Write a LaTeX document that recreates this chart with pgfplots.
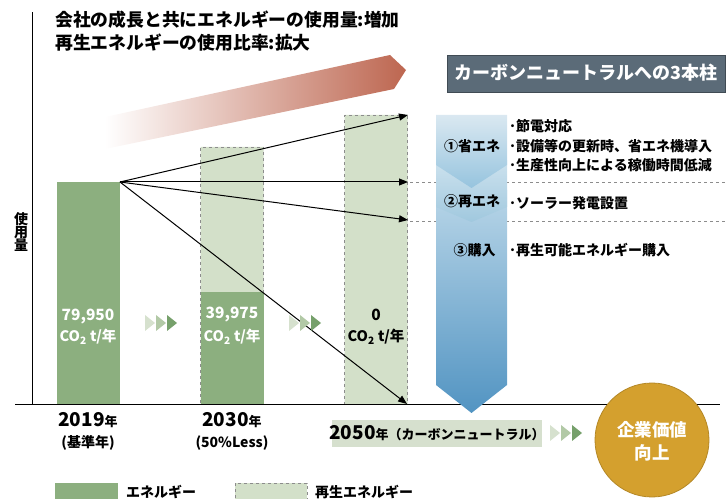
\documentclass[border=0pt]{standalone}
\usepackage{fontspec}
\setmainfont{Noto Sans CJK JP}
\usepackage{pgfplots}
\pgfplotsset{compat=1.18}
\usetikzlibrary{arrows.meta}

\definecolor{dkgreen}{HTML}{8CAF7F}
\definecolor{ltgreen}{HTML}{D3E0C9}
\definecolor{dashgray}{HTML}{8C8C8C}
\definecolor{redarrow}{HTML}{BD6650}
\definecolor{slatebox}{HTML}{5B6B78}
\definecolor{gold}{HTML}{D4A02E}
\definecolor{boxgreen}{HTML}{D6E0CE}
\definecolor{tri1}{HTML}{D6E1CE}
\definecolor{tri2}{HTML}{B2C9A6}
\definecolor{tri3}{HTML}{76A06B}
\definecolor{txt}{HTML}{1A1A1A}

\newcommand{\fs}[1]{\fontsize{#1}{#1}\selectfont}
\newcommand{\coyr}{CO\textsubscript{2} t/年}
% three chevrons, left x and centre y
\newcommand{\chev}[2]{%
  \fill[tri1] (axis cs:#1,#2+8) -- (axis cs:#1+10,#2) -- (axis cs:#1,#2-8) -- cycle;
  \fill[tri2] (axis cs:#1+11,#2+8) -- (axis cs:#1+21,#2) -- (axis cs:#1+11,#2-8) -- cycle;
  \fill[tri3] (axis cs:#1+22,#2+8) -- (axis cs:#1+32,#2) -- (axis cs:#1+22,#2-8) -- cycle;
}

\begin{document}
\begin{tikzpicture}
\begin{axis}[
    x=1pt, y=1pt,
    xmin=0, xmax=728, ymin=-94, ymax=404,
    at={(0,0)}, anchor=south west,
    hide axis, clip=false,
    every node/.append style={text=txt},
]
% rising arrow behind the bars
\shade[left color=white, right color=redarrow, draw=none]
    (axis cs:105,287) -- (axis cs:390,349) -- (axis cs:406,334)
    -- (axis cs:394,315) -- (axis cs:105,255) -- cycle;

% bars (height measured from the base line)
\addplot[ybar, bar width=63, bar shift=0pt, fill=dkgreen, draw=none]
    coordinates {(88,222)};
\addplot[ybar, bar width=63, bar shift=0pt, fill=ltgreen, draw=dashgray, dashed, line width=0.8pt]
    coordinates {(232,257) (376,289)};
\addplot[ybar, bar width=63, bar shift=0pt, fill=dkgreen, draw=none]
    coordinates {(232,112)};

% guide lines
\addplot[dashgray, dashed, line width=0.8pt] coordinates {(410,222) (728,222)};
\addplot[dashgray, dashed, line width=0.8pt] coordinates {(410,183) (728,183)};

% axes
\draw[black, line width=0.9pt] (axis cs:15,0) -- (axis cs:720,0);
\draw[black, line width=0.9pt] (axis cs:32,0) -- (axis cs:32,392);

% arrows from 2019
\addplot[black, line width=1pt, -{Triangle[length=9pt,width=7pt]}] coordinates {(120,222) (408,289)};
\addplot[black, line width=1pt, -{Triangle[length=9pt,width=7pt]}] coordinates {(120,222) (408,222)};
\addplot[black, line width=1pt, -{Triangle[length=9pt,width=7pt]}] coordinates {(120,222) (408,184)};
\addplot[black, line width=1pt, -{Triangle[length=9pt,width=7pt]}] coordinates {(120,222) (407,0)};

% blue pillar arrow
\shade[top color={rgb,255:red,185;green,214;blue,232}, bottom color={rgb,255:red,82;green,148;blue,194}]
    (axis cs:436,214) -- (axis cs:507,214) -- (axis cs:507,19) -- (axis cs:471.5,-9) -- (axis cs:436,19) -- cycle;
\shade[top color={rgb,255:red,205;green,226;blue,238}, bottom color={rgb,255:red,160;green,200;blue,222}]
    (axis cs:436,244) -- (axis cs:507,244) -- (axis cs:507,197) -- (axis cs:471.5,182) -- (axis cs:436,197) -- cycle;
\shade[top color={rgb,255:red,218;green,232;blue,241}, bottom color={rgb,255:red,150;green,196;blue,222}]
    (axis cs:436,289) -- (axis cs:507,289) -- (axis cs:507,239) -- (axis cs:471.5,216) -- (axis cs:436,239) -- cycle;

% title box
\draw[fill=slatebox, draw=slatebox!70!black] (axis cs:447,312) rectangle (axis cs:725,349);
\node[text=white, font=\fs{18}\bfseries] at (axis cs:586,331) {カーボンニュートラルへの3本柱};

% pillar labels
\node[font=\fs{14}\bfseries] at (axis cs:472,258) {①省エネ};
\node[font=\fs{14}\bfseries] at (axis cs:472,203) {②再エネ};
\node[font=\fs{14}\bfseries, anchor=west] at (axis cs:450,154) {③購入};
\node[font=\fs{14}\bfseries, anchor=west, inner sep=0pt] at (axis cs:509,278) {･節電対応};
\node[font=\fs{14}\bfseries, anchor=west, inner sep=0pt] at (axis cs:509,258) {･設備等の更新時、省エネ機導入};
\node[font=\fs{14}\bfseries, anchor=west, inner sep=0pt] at (axis cs:509,239) {･生産性向上による稼働時間低減};
\node[font=\fs{14}\bfseries, anchor=west, inner sep=0pt] at (axis cs:509,201) {･ソーラー発電設置};
\node[font=\fs{14}\bfseries, anchor=west, inner sep=0pt] at (axis cs:509,154) {･再生可能エネルギー購入};

% top title
\node[font=\fs{17.8}\bfseries, anchor=west, inner sep=0pt] at (axis cs:55,384) {会社の成長と共にエネルギーの使用量:増加};
\node[font=\fs{17.8}\bfseries, anchor=west, inner sep=0pt] at (axis cs:55,361) {再生エネルギーの使用比率:拡大};

% y label
\node[font=\fs{14}\bfseries, align=center, inner sep=0pt] at (axis cs:21,172) {使\\[-1pt]用\\[-1pt]量};

% bar values
\node[text=white, font=\fs{15.5}\bfseries] at (axis cs:88,87) {79,950};
\node[text=white, font=\fs{14.5}\bfseries] at (axis cs:88,67) {\coyr};
\node[text=white, font=\fs{15.5}\bfseries] at (axis cs:232,89) {39,975};
\node[text=white, font=\fs{14.5}\bfseries] at (axis cs:232,67) {\coyr};
\node[font=\fs{15.5}\bfseries] at (axis cs:376,89) {0};
\node[font=\fs{14.5}\bfseries] at (axis cs:376,67) {\coyr};

% chevrons
\chev{145}{81}
\chev{289}{81}
\chev{550}{-29}

% year labels
\node[font=\bfseries] at (axis cs:88,-16) {{\fs{19}2019}{\fs{13}年}};
\node[font=\fs{14}\bfseries] at (axis cs:88,-39) {(基準年)};
\node[font=\bfseries] at (axis cs:232,-16) {{\fs{19}2030}{\fs{13}年}};
\node[font=\fs{14}\bfseries] at (axis cs:232,-39) {(50\%Less)};
\fill[boxgreen] (axis cs:332,-16) rectangle (axis cs:542,-43);
\node[font=\bfseries] at (axis cs:437,-29) {{\fs{19}2050}{\fs{13}年（カーボンニュートラル）}};

% value circle
\draw[fill=gold, draw=gold!85!black, line width=0.8pt] (axis cs:652,-36) circle[radius=57pt];
\node[text=white, font=\fs{17.5}\bfseries] at (axis cs:652,-26) {企業価値};
\node[text=white, font=\fs{17.5}\bfseries] at (axis cs:652,-49) {向上};

% legend
\fill[dkgreen] (axis cs:55,-79) rectangle (axis cs:118,-100);
\node[font=\fs{14}\bfseries, anchor=west, inner sep=0pt] at (axis cs:126,-88) {エネルギー};
\draw[fill=ltgreen, draw=dashgray, dashed, line width=0.8pt] (axis cs:235,-79) rectangle (axis cs:307,-100);
\node[font=\fs{14}\bfseries, anchor=west, inner sep=0pt] at (axis cs:315,-88) {再生エネルギー};
\end{axis}
\pgfresetboundingbox
\path[use as bounding box] (0,0) rectangle (728pt,498pt);
\end{tikzpicture}
\end{document}
